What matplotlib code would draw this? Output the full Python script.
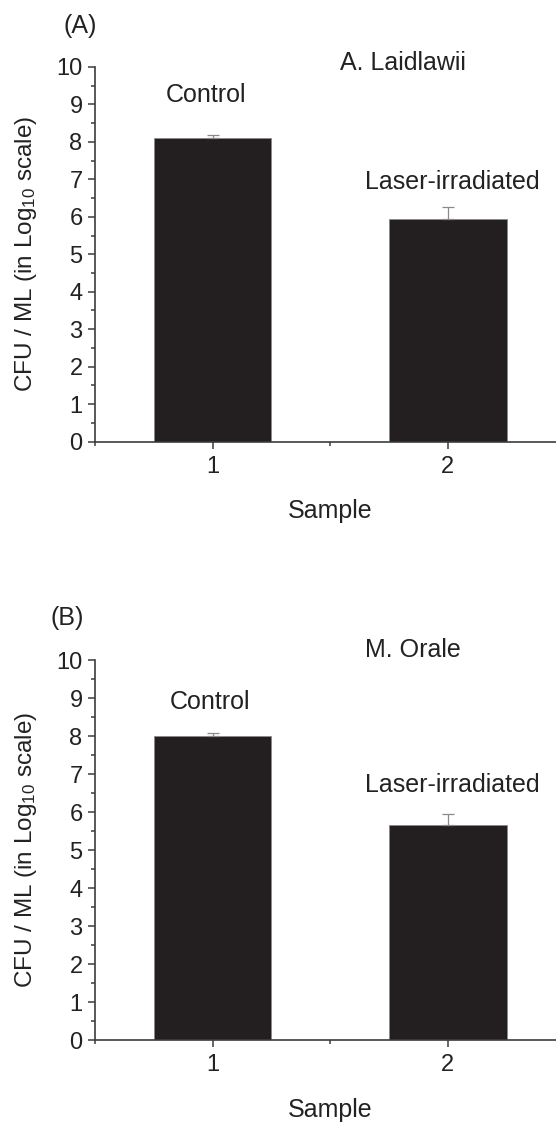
import matplotlib
matplotlib.use('Agg')
import matplotlib.pyplot as plt
from matplotlib.ticker import MultipleLocator

# bar data (log10 CFU/mL)
samples = [1, 2]
bar_labels = ["Control", "Laser-irradiated"]
laidlawii_vals = [8.11, 5.95]
laidlawii_err = [0.08, 0.30]
orale_vals = [8.01, 5.67]
orale_err = [0.06, 0.29]

plt.rcParams['font.family'] = ['Liberation Sans', 'DejaVu Sans']
plt.rcParams['mathtext.default'] = 'regular'

BAR_COLOR = '#231f20'
AX_COLOR = '#3c3c3c'
TXT = '#222222'


def draw_panel(ax, vals, errs, panel, panel_xy, organism, org_xy, lab_xy):
    ax.bar(samples, vals, width=0.5, color=BAR_COLOR, edgecolor='#8a8a8a', linewidth=0.6, zorder=2)
    ax.errorbar(samples, vals, yerr=[[0, 0], errs], fmt='none', ecolor='#8a8a8a',
                elinewidth=0.9, capsize=4, capthick=0.9, zorder=3)
    ax.set_xlim(0.5, 2.5)
    ax.set_ylim(0, 10)
    ax.spines['top'].set_visible(False)
    ax.spines['right'].set_visible(False)
    for s in ('left', 'bottom'):
        ax.spines[s].set_color(AX_COLOR)
        ax.spines[s].set_linewidth(1.2)
    ax.yaxis.set_major_locator(MultipleLocator(1))
    ax.yaxis.set_minor_locator(MultipleLocator(0.5))
    ax.xaxis.set_major_locator(MultipleLocator(1))
    ax.xaxis.set_minor_locator(MultipleLocator(0.5))
    ax.set_xticks(samples)
    ax.tick_params(which='major', length=5, width=1.1, color=AX_COLOR, labelsize=17, labelcolor=TXT)
    ax.tick_params(which='minor', length=3, width=1.1, color=AX_COLOR)
    ax.tick_params(axis='y', pad=4)
    ax.tick_params(axis='x', pad=5)
    ax.set_ylabel("CFU / ML (in Log$_{10}$ scale)", fontsize=17.5, color=TXT)
    ax.yaxis.set_label_coords(-0.12, 0.5)
    ax.set_xlabel("Sample", fontsize=18, color=TXT)
    ax.xaxis.set_label_coords(0.5, -0.152)
    ax.text(panel_xy[0], panel_xy[1], panel, transform=ax.transAxes, fontsize=18,
            ha='center', va='center', color=TXT)
    ax.text(org_xy[0], org_xy[1], organism, fontsize=18, ha='center', va='center', color=TXT)
    for (x, y), lab in zip(lab_xy, bar_labels):
        ax.text(x, y, lab, fontsize=18, ha='center', va='center', color=TXT)


fig = plt.figure(figsize=(5.56, 11.24), dpi=100)
ax1 = fig.add_axes([0.1709, 0.607, 0.8462, 0.3336])
ax2 = fig.add_axes([0.1709, 0.0747, 0.8462, 0.3381])

draw_panel(ax1, laidlawii_vals, laidlawii_err, "(A)", (-0.032, 1.11), "A. Laidlawii", (1.81, 10.1),
           [(0.97, 9.25), (2.02, 6.93)])
draw_panel(ax2, orale_vals, orale_err, "(B)", (-0.06, 1.11), "M. Orale", (1.85, 10.26),
           [(0.99, 8.9), (2.02, 6.71)])

fig.savefig('out.png', dpi=100)
